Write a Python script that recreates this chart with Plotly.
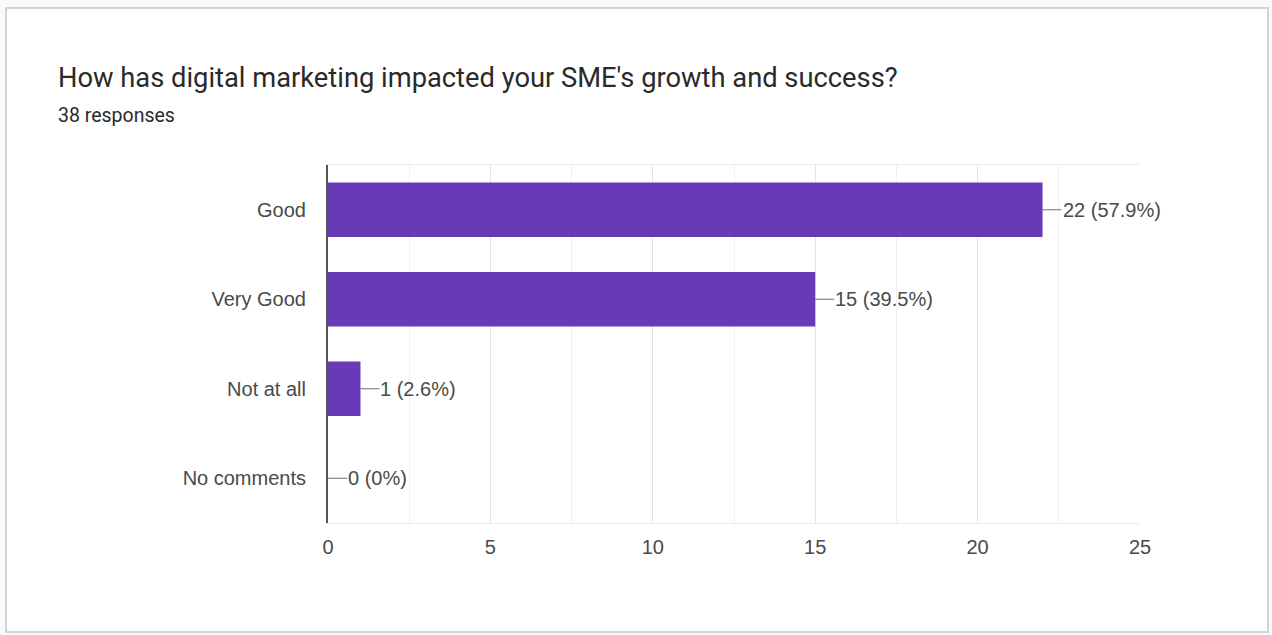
import plotly.graph_objects as go

# Survey answers and response counts
categories = ["Good", "Very Good", "Not at all", "No comments"]
counts = [22, 15, 1, 0]
total_responses = 38
x_ticks = [0, 5, 10, 15, 20, 25]

title_text = "How has digital marketing impacted your SME's growth and success?"
subtitle_text = f"{total_responses} responses"

W, H = 1272, 635
L, R, T, B = 328, 132, 165, 112
plot_w = W - L - R
plot_h = H - T - B


def px_x(p):
    return (p - L) / plot_w


def px_y(q):
    return (H - B - q) / plot_h


BAR = "#673ab7"
TEXT = "#4a4a4a"

fig = go.Figure()
fig.add_trace(go.Bar(
    x=counts,
    y=categories,
    orientation="h",
    width=0.61,
    marker=dict(color=BAR, line=dict(width=0)),
    hoverinfo="skip",
))

annotations = []
for cat, n in zip(categories, counts):
    pct = n / total_responses * 100
    pct_txt = f"{pct:.1f}%" if n else "0%"
    annotations.append(dict(
        x=n, y=cat, xref="x", yref="y",
        text=f"{n} ({pct_txt})",
        showarrow=True, arrowhead=0, arrowwidth=1, arrowcolor="#6f6f6f",
        ax=19, ay=0, xanchor="left", yanchor="middle",
        standoff=0, borderpad=0,
        font=dict(family="Liberation Sans, Arial", size=20, color=TEXT),
    ))

annotations.append(dict(
    x=px_x(56), y=px_y(78), xref="paper", yref="paper",
    text=title_text, showarrow=False, xanchor="left", yanchor="middle",
    font=dict(family="Roboto, Arial", size=27.3, color="#2a2a2a"),
))
annotations.append(dict(
    x=px_x(56), y=px_y(116), xref="paper", yref="paper",
    text=subtitle_text, showarrow=False, xanchor="left", yanchor="middle",
    font=dict(family="Roboto, Arial", size=19.5, color="#2a2a2a"),
))

# Card outline around the whole chart
shapes = [dict(
    type="rect", xref="paper", yref="paper", layer="below",
    x0=px_x(6), x1=px_x(1268), y0=px_y(632), y1=px_y(8),
    line=dict(color="#d4d4d4", width=2), fillcolor="white",
)]

fig.update_layout(
    width=W, height=H,
    margin=dict(l=L, r=R, t=T, b=B, pad=0),
    paper_bgcolor="#fafafa",
    plot_bgcolor="white",
    showlegend=False,
    annotations=annotations,
    shapes=shapes,
    font=dict(family="Liberation Sans, Arial", size=20, color=TEXT),
)

fig.update_xaxes(
    range=[0, 25],
    tickvals=x_ticks,
    ticktext=[str(v) for v in x_ticks],
    showgrid=True, gridcolor="#e3e3e3", gridwidth=1,
    minor=dict(dtick=2.5, showgrid=True, gridcolor="#f0f0f0", gridwidth=1),
    zeroline=False,
    showline=True, mirror=True, linecolor="#ebebeb", linewidth=1,
    ticks="", ticklabelstandoff=6,
    tickfont=dict(family="Liberation Sans, Arial", size=20, color=TEXT),
    fixedrange=True,
)
fig.update_yaxes(
    autorange="reversed",
    showgrid=False, zeroline=False,
    showline=True, linecolor="#555555", linewidth=2,
    ticks="", ticklabelstandoff=16,
    tickfont=dict(family="Liberation Sans, Arial", size=20, color=TEXT),
    fixedrange=True,
)

fig.write_html("out.html", config={"displayModeBar": False})
